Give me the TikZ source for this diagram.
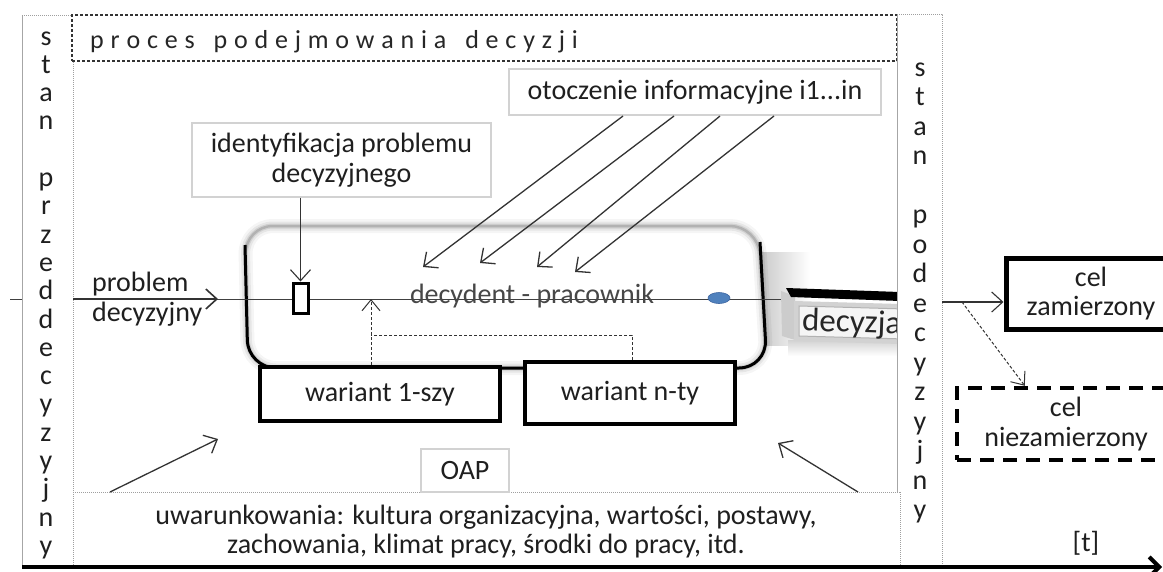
\documentclass[tikz,border=0pt]{standalone}
\usepackage{fontspec}
\setmainfont{Carlito}
\usetikzlibrary{arrows.meta,calc,shapes.geometric}
\newcommand{\lgap}{\hspace{6.8pt}}
\newcommand{\wgap}{\hspace{19pt}}
\begin{document}
\begin{tikzpicture}[x=1pt,y=-1pt,
  txt/.style={font=\fontsize{28}{29.5}\selectfont, text=black!88, align=center, inner sep=0pt},
  lbox/.style={draw=gray!35, line width=1.2pt, fill=white, inner sep=0pt},
  tbox/.style={draw=black, line width=4pt, fill=white, inner sep=0pt},
  dotl/.style={draw=gray!75, line width=1pt, dash pattern=on 1pt off 1pt},
  conn/.style={draw=black!80, line width=1.2pt, -{Straight Barb[length=11pt,width=20pt]}},
  dconn/.style={draw=black!80, line width=1pt, dash pattern=on 3pt off 2pt, -{Straight Barb[length=11pt,width=18pt]}},
]
\clip (0,0) rectangle (1163,571);
\fill[white] (0,0) rectangle (1163,571);

% shadow right of the decision-maker box
\shade[left color=black!22, right color=white] (758,252) rectangle (810,345);
% decision-maker rounded box
\fill[white, rounded corners=28pt] (245,226) -- (758,226) -- (767,368) -- (248,368) -- cycle;
\foreach \w/\o in {14pt/0.04, 9pt/0.06, 5pt/0.09, 2.5pt/0.14}
  \draw[line width=\w, black, opacity=\o, rounded corners=28pt] (245,226) -- (758,226) -- (767,368) -- (248,368) -- cycle;
\draw[gray!60, line width=0.8pt, rounded corners=28pt] (245,226) -- (758,226) -- (767,368) -- (248,368) -- cycle;
\draw[line width=3pt, rounded corners=28pt] (245,245) -- (248,368) -- (767,368) -- (760,242);

% main line
\coordinate (tickL) at (10,299);
\coordinate (decL) at (787,299);
\draw[black!75, line width=1pt] (tickL) -- (decL);

% left bar
\fill[white] (22.5,15) rectangle (73,567);
\draw[gray!70, line width=1pt] (22,15) -- (22,567);
\draw[dotl] (22,15) -- (73,15) -- (73,567);
\foreach \c [count=\i from 0] in {s,t,a,n,{},p,r,z,e,d,d,e,c,y,z,y,j,n,y}
  \node[txt, anchor=base] (lb\i) at (46,45+28.3*\i) {\c};

% header
\node[draw=black!80, line width=1.3pt, dash pattern=on 3pt off 2pt, fill=white, minimum width=825pt, minimum height=46pt, inner sep=0pt] (head) at (484.5,38) {};
\node[font=\fontsize{26}{26}\selectfont, text=black!85, anchor=base west, inner sep=0pt] (headtxt) at (90,48)
 {p\lgap r\lgap o\lgap c\lgap e\lgap s\wgap p\lgap o\lgap d\lgap e\lgap j\lgap m\lgap o\lgap w\lgap a\lgap n\lgap i\lgap a\wgap d\lgap e\lgap c\lgap y\lgap z\lgap j\lgap i};

% problem arrow
\coordinate (pstart) at (73,299);
\coordinate (ptip) at (218,299);
\draw[conn, line width=1.6pt] (pstart) -- (ptip);
\node[txt, align=left, anchor=west] (prob) at (92,299) {problem\\decyzyjny};

% marker, ellipse, decision maker
\node[draw, line width=3pt, fill=white, minimum width=15pt, minimum height=30pt, inner sep=0pt] (marker) at (300.5,298) {};
\node[ellipse, fill={rgb,255:red,79;green,129;blue,189}, draw={rgb,255:red,60;green,100;blue,160}, line width=0.6pt, minimum width=22pt, minimum height=11pt, inner sep=0pt] (dot) at (719,298) {};
\node[txt, text=black!72] (decy) at (532,296) {decydent - pracownik};

% variants
\node[tbox, minimum width=240pt, minimum height=54pt, txt] (v1) at (380,394) {wariant 1-szy};
\node[tbox, minimum width=210pt, minimum height=62pt, txt] (vn) at (630,393) {wariant n-ty};
\coordinate (fbL) at (371,335);
\coordinate (fbR) at (632,335);
\draw[black!80, line width=1pt, dash pattern=on 3pt off 2pt] (vn.north -| fbR) -- (fbR) -- (fbL);
\draw[dconn] (v1.north -| fbL) -- (fbL |- tickL);

% information environment
\node[lbox, minimum width=372pt, minimum height=46pt, txt] (oto) at (695,92) {otoczenie informacyjne i1...in};
\foreach \sx/\ex/\ey [count=\k] in {623/423/267, 674/480/263, 720/537/267, 774/575/272}{
  \coordinate (os\k) at (\sx,116);
  \coordinate (oe\k) at (\ex,\ey);
  \draw[conn, line width=1.3pt] (os\k) -- (oe\k);
}

% identification
\node[lbox, minimum width=299pt, minimum height=74pt, txt] (ident) at (341.5,160) {identyfikacja problemu\\decyzyjnego};
\draw[conn, line width=1.1pt] (ident.south -| marker) -- (marker.north);

% decision 3D label
\shade[top color=gray!35, bottom color=white] (788,340) rectangle (900,356);
\fill[gray!40] (781,291) -- (795,296) -- (795,340) -- (782,336) -- cycle;
\fill[black] (786,288) -- (900,292) -- (900,301) -- (791,297) -- cycle;
\fill[gray!35] (794,301) -- (900,304) -- (900,344) -- (794,341) -- cycle;
\draw[gray!60, fill=gray!8, line width=1pt] (799,306) -- (905,309) -- (905,339) -- (799,336) -- cycle;
\node[font=\fontsize{33}{33}\selectfont, anchor=west, inner sep=0pt, rotate=-2, text=black!85] (decz) at (802,322) {decyzja};

% right bar
\fill[white] (897.5,14) rectangle (942,567);
\draw[gray!70, line width=1pt] (897,14) -- (897,492);
\draw[dotl] (897,14) -- (942,14) -- (942,567);
\draw[dotl] (900,492) -- (900,567);
\foreach \c [count=\i from 0] in {s,t,a,n,{},p,o,d,e,c,y,z,y,j,n,y}
  \node[txt, anchor=base] (rb\i) at (920,76+29.5*\i) {\c};

% goals
\node[tbox, line width=5pt, minimum width=170pt, minimum height=71pt, txt] (celz) at (1091,293.5) {cel\\zamierzony};
\node[draw, line width=4.5pt, dash pattern=on 14pt off 9pt, fill=white, minimum width=218pt, minimum height=72pt, txt] (celn) at (1066,424) {cel\\niezamierzony};
\coordinate (rbE) at (942,302);
\coordinate (rsplit) at (962,302);
\draw[conn, line width=1.1pt] (rbE) -- (celz.west |- rbE);
\draw[dconn] (rsplit) -- ($(celn.north west)+(70,0)$);

% conditions
\fill[white] (73.5,492.5) rectangle (899.5,565);
\draw[dotl] (73,492) -- (900,492);
\node[txt] (uwar) at (486,531.5) {uwarunkowania: kultura organizacyjna, wartości, postawy,\\zachowania, klimat pracy, środki do pracy, itd.};
\node[lbox, minimum width=88pt, minimum height=43pt, txt] (oap) at (465,470.5) {OAP};
\coordinate (ua1) at (110,492);
\coordinate (ua1t) at (218,439);
\coordinate (ua2) at (858,492);
\coordinate (ua2t) at (778,443);
\draw[conn, line width=1.3pt] (ua1) -- (ua1t);
\draw[conn, line width=1.3pt] (ua2) -- (ua2t);

% time axis
\coordinate (ax0) at (22,567);
\coordinate (ax1) at (1162,567);
\draw[line width=4pt, -{Straight Barb[length=10pt,width=20pt]}] (ax0) -- (ax1);
\node[txt] (tlab) at (1086,543) {[t]};
\end{tikzpicture}
\end{document}
